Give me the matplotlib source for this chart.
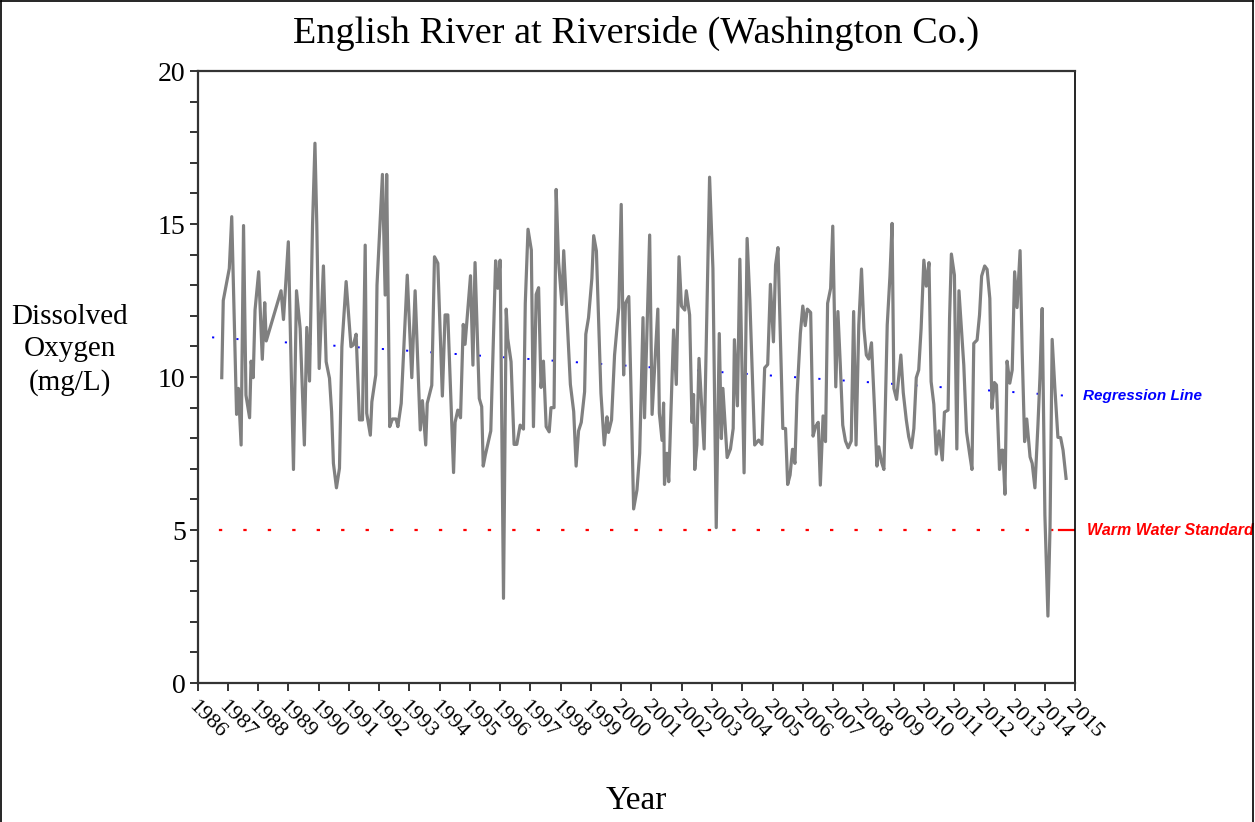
import matplotlib.pyplot as plt
from matplotlib.lines import Line2D

# data
years = [1986.80, 1986.85, 1987.05, 1987.13, 1987.29, 1987.35, 1987.44, 1987.52, 1987.60, 1987.72,
         1987.77, 1987.84, 1987.90, 1988.02, 1988.14, 1988.22, 1988.27, 1988.76, 1988.84, 1989.00,
         1989.17, 1989.27, 1989.39, 1989.53, 1989.61, 1989.70, 1989.80, 1989.88, 1989.94, 1990.02,
         1990.16, 1990.25, 1990.36, 1990.43, 1990.49, 1990.59, 1990.69, 1990.77, 1990.91, 1991.07,
         1991.15, 1991.24, 1991.35, 1991.45, 1991.54, 1991.59, 1991.71, 1991.76, 1991.89, 1991.93,
         1992.11, 1992.20, 1992.25, 1992.35, 1992.44, 1992.56, 1992.62, 1992.73, 1992.93, 1993.08,
         1993.19, 1993.36, 1993.43, 1993.54, 1993.59, 1993.74, 1993.83, 1993.94, 1994.09, 1994.18,
         1994.27, 1994.46, 1994.51, 1994.60, 1994.69, 1994.78, 1994.84, 1995.02, 1995.10, 1995.17,
         1995.31, 1995.39, 1995.44, 1995.51, 1995.69, 1995.85, 1995.92, 1996.00, 1996.11, 1996.20,
         1996.25, 1996.36, 1996.46, 1996.55, 1996.66, 1996.77, 1996.83, 1996.92, 1997.03, 1997.10,
         1997.19, 1997.27, 1997.35, 1997.43, 1997.52, 1997.62, 1997.68, 1997.78, 1997.85, 1997.93,
         1998.04, 1998.10, 1998.32, 1998.43, 1998.51, 1998.59, 1998.68, 1998.79, 1998.83, 1998.92,
         1999.03, 1999.09, 1999.18, 1999.33, 1999.44, 1999.53, 1999.58, 1999.68, 1999.78, 1999.92,
         2000.00, 2000.08, 2000.14, 2000.25, 2000.33, 2000.41, 2000.52, 2000.61, 2000.72, 2000.77,
         2000.94, 2001.02, 2001.21, 2001.26, 2001.35, 2001.40, 2001.43, 2001.51, 2001.57, 2001.73,
         2001.82, 2001.91, 2001.99, 2002.10, 2002.15, 2002.26, 2002.34, 2002.39, 2002.43, 2002.50,
         2002.57, 2002.74, 2002.84, 2002.92, 2003.03, 2003.14, 2003.24, 2003.31, 2003.36, 2003.50,
         2003.61, 2003.70, 2003.74, 2003.84, 2003.92, 2004.06, 2004.16, 2004.25, 2004.41, 2004.54,
         2004.65, 2004.74, 2004.84, 2004.93, 2005.03, 2005.10, 2005.18, 2005.34, 2005.43, 2005.50,
         2005.58, 2005.66, 2005.74, 2005.81, 2005.92, 2006.00, 2006.08, 2006.15, 2006.26, 2006.34,
         2006.42, 2006.51, 2006.58, 2006.67, 2006.75, 2006.82, 2006.92, 2006.99, 2007.09, 2007.16,
         2007.24, 2007.32, 2007.41, 2007.50, 2007.60, 2007.68, 2007.76, 2007.85, 2007.94, 2008.02,
         2008.10, 2008.18, 2008.27, 2008.37, 2008.45, 2008.51, 2008.60, 2008.68, 2008.79, 2008.88,
         2008.95, 2009.01, 2009.10, 2009.24, 2009.32, 2009.42, 2009.50, 2009.59, 2009.67, 2009.75,
         2009.83, 2009.91, 2010.00, 2010.08, 2010.17, 2010.24, 2010.33, 2010.41, 2010.50, 2010.61,
         2010.68, 2010.80, 2010.85, 2010.91, 2011.01, 2011.09, 2011.16, 2011.27, 2011.32, 2011.41,
         2011.51, 2011.59, 2011.65, 2011.76, 2011.84, 2011.91, 2012.01, 2012.09, 2012.18, 2012.25,
         2012.33, 2012.40, 2012.50, 2012.57, 2012.61, 2012.68, 2012.75, 2012.84, 2012.92, 2013.00,
         2013.08, 2013.18, 2013.25, 2013.33, 2013.40, 2013.51, 2013.58, 2013.67, 2013.77, 2013.84,
         2013.91, 2014.00, 2014.10, 2014.17, 2014.24, 2014.33, 2014.43, 2014.52, 2014.60, 2014.70]
oxygen = [9.98, 12.50, 13.55, 15.24, 8.78, 9.63, 7.78, 14.95, 9.41, 8.67,
          10.52, 9.98, 12.19, 13.44, 10.58, 12.43, 11.18, 12.82, 11.88, 14.42,
          6.98, 12.82, 11.59, 7.78, 11.62, 9.87, 14.97, 17.64, 15.02, 10.28,
          13.63, 10.50, 9.96, 8.87, 7.18, 6.38, 7.02, 10.99, 13.12, 10.99,
          11.05, 11.40, 8.60, 8.60, 14.31, 8.82, 8.10, 9.19, 10.07, 13.00,
          16.62, 12.68, 16.62, 8.38, 8.63, 8.63, 8.38, 9.14, 13.33, 9.98,
          12.82, 8.27, 9.23, 7.78, 9.14, 9.73, 13.93, 13.72, 9.38, 12.03,
          12.03, 6.88, 8.52, 8.92, 8.67, 11.72, 11.07, 13.31, 10.39, 13.74,
          9.30, 9.03, 7.09, 7.45, 8.24, 13.80, 12.90, 13.82, 2.77, 12.22,
          11.26, 10.50, 7.80, 7.80, 8.43, 8.30, 12.41, 14.83, 14.15, 8.38,
          12.70, 12.92, 9.66, 10.52, 8.38, 8.21, 9.00, 9.00, 16.13, 13.77,
          12.37, 14.13, 9.76, 8.87, 7.09, 8.24, 8.52, 9.52, 11.40, 11.94,
          13.22, 14.62, 14.12, 9.47, 7.78, 8.70, 8.19, 8.60, 10.72, 12.27,
          15.64, 10.07, 12.41, 12.63, 9.30, 5.69, 6.31, 7.51, 11.94, 8.67,
          14.64, 8.78, 12.22, 8.82, 7.93, 9.15, 6.49, 7.51, 6.58, 11.54,
          9.76, 13.93, 12.32, 12.19, 12.82, 12.03, 8.52, 9.43, 6.98, 7.78,
          10.61, 7.65, 12.63, 16.53, 13.55, 5.08, 11.42, 7.99, 9.63, 7.37,
          7.65, 8.32, 11.22, 9.06, 13.85, 6.87, 14.53, 12.52, 7.78, 7.94,
          7.80, 10.30, 10.41, 13.03, 11.15, 13.66, 14.23, 8.32, 8.32, 6.49,
          6.80, 7.64, 7.18, 9.41, 11.43, 12.32, 11.68, 12.22, 12.11, 8.07,
          8.38, 8.52, 6.47, 8.73, 7.89, 12.41, 12.90, 14.93, 9.68, 12.14,
          10.39, 8.43, 7.91, 7.69, 7.91, 12.14, 7.78, 11.70, 13.53, 11.59,
          10.72, 10.59, 11.12, 8.98, 7.09, 7.72, 7.23, 6.98, 11.70, 13.30,
          15.02, 9.63, 9.27, 10.72, 9.49, 8.60, 8.05, 7.69, 8.32, 9.98,
          10.23, 11.59, 13.82, 12.97, 13.74, 9.85, 9.11, 7.48, 8.24, 7.29,
          8.85, 8.92, 11.92, 14.02, 13.33, 7.65, 12.82, 11.15, 10.39, 8.21,
          7.51, 6.98, 11.10, 11.21, 12.03, 13.30, 13.63, 13.52, 12.57, 8.98,
          9.82, 9.74, 6.98, 7.61, 7.61, 6.17, 10.52, 9.80, 10.23, 13.44,
          12.27, 14.13, 10.80, 7.89, 8.63, 7.39, 7.18, 6.38, 8.43, 10.07,
          12.24, 5.49, 2.19, 5.11, 11.23, 9.63, 8.03, 8.02, 7.61, 6.69]

tick_years = list(range(1986, 2016))
reg_years = [1986, 2015]
reg_values = [11.33, 9.37]
standard = 5

serif = ['Liberation Serif', 'DejaVu Serif']
sans = ['Liberation Sans', 'DejaVu Sans']

fig = plt.figure(figsize=(12.55, 8.22), dpi=100)
ax = fig.add_axes([0.1574, 0.169, 0.6993, 0.7446])

# regression and warm water standard (sparse dotted lines)
ax.plot(reg_years, reg_values, color='blue', lw=1.4, linestyle=(5.0, (1.1, 11.4)), zorder=2)
ax.plot([1986, 2015], [standard, standard], color='red', lw=1.6, linestyle=(1.6, (1.5, 9.5)), zorder=2)
ax.plot([2014.45, 2015], [standard, standard], color='red', lw=1.6, zorder=2)

ax.plot(years, oxygen, color='#808080', lw=2.3, zorder=3)

ax.set_xlim(1986, 2015)
ax.set_ylim(0, 20)
ax.set_yticks([0, 5, 10, 15, 20])
ax.set_yticks(range(0, 21), minor=True)
ax.set_xticks(tick_years)
ax.set_xticklabels([str(y) for y in tick_years], rotation=-45, ha='left', va='top',
                   rotation_mode='anchor', family=serif, fontsize=16)
for lab in ax.get_yticklabels():
    lab.set_family(serif)
    lab.set_fontsize(20)
ax.tick_params(axis='both', which='both', direction='out', color='#333333', width=1.4)
ax.tick_params(axis='y', which='both', length=5.5)
ax.tick_params(axis='x', which='major', length=6, pad=4)
ax.tick_params(axis='y', which='major', pad=3)
for s in ax.spines.values():
    s.set_color('#333333')
    s.set_linewidth(1.6)
ax.spines['right'].set_color('black')
ax.spines['right'].set_linewidth(1.2)

ax.set_title('English River at Riverside (Washington Co.)', family=serif, fontsize=27.5, pad=20)
fig.text(70 / 1255, 1 - 350 / 822, 'Dissolved\nOxygen\n(mg/L)', family=serif, fontsize=21,
         ha='center', va='center', multialignment='center', linespacing=1.32)
fig.text(636 / 1255, 1 - 801 / 822, 'Year', family=serif, fontsize=24, ha='center', va='center')

ax.text(2015.27, reg_values[1], 'Regression Line', color='blue', fontsize=11, fontweight='bold',
        style='italic', family=sans, va='center', ha='left', clip_on=False)
ax.text(2015.4, standard, 'Warm Water Standard', color='red', fontsize=11.5, fontweight='bold',
        style='italic', family=sans, va='center', ha='left', clip_on=False)

# outer frame of the picture
for xs, ys in [([0.001, 0.001], [0, 0.999]), ([0.001, 0.9985], [0.999, 0.999]), ([0.9985, 0.9985], [0, 0.999])]:
    fig.add_artist(Line2D(xs, ys, color='black', lw=1.2, transform=fig.transFigure))

fig.savefig('out.png', dpi=100)
